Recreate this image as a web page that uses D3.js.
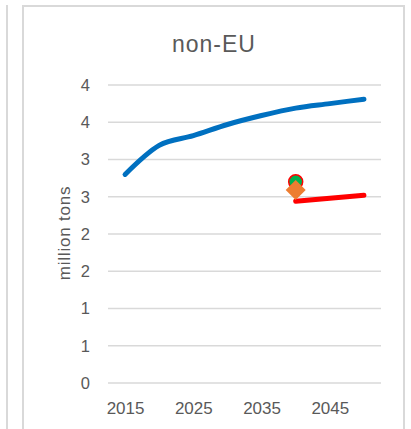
<!DOCTYPE html>
<html>
<head>
<meta charset="utf-8">
<script src="https://cdn.jsdelivr.net/npm/d3@7"></script>
<style>
  html, body { margin: 0; padding: 0; background: #ffffff; }
  svg { display: block; }
  text { font-family: "Liberation Sans", Arial, sans-serif; fill: #595959; }
</style>
</head>
<body>
<svg id="chart" width="411" height="429"></svg>
<script>
// ---- data ----
const years = [2015, 2020, 2025, 2030, 2035, 2040, 2045, 2050];
const blueSeries = [2.80, 3.19, 3.32, 3.47, 3.59, 3.69, 3.75, 3.81];
const redSeries = [null, null, null, null, null, 2.44, 2.48, 2.52];
const greenPoint = [{ year: 2040, value: 2.70 }];
const orangePoint = [{ year: 2040, value: 2.59 }];
const yTicks = [0, 0.5, 1, 1.5, 2, 2.5, 3, 3.5, 4];
const yTickLabels = ["0", "1", "1", "2", "2", "3", "3", "4", "4"];
const xTickLabels = ["2015", "2025", "2035", "2045"];
const titleText = "non-EU";
const yAxisTitle = "million tons";

// ---- layout ----
const svg = d3.select("#chart");
const plot = { left: 108, right: 381, top: 85, bottom: 383 };

// outer frames
svg.append("line").attr("x1", 7).attr("x2", 7).attr("y1", 5).attr("y2", 429)
  .attr("stroke", "#d9d9d9").attr("stroke-width", 2);
svg.append("path").attr("d", "M23,440 V6 H404 V440")
  .attr("fill", "none").attr("stroke", "#d9d9d9").attr("stroke-width", 2);

const x = d3.scalePoint().domain(years).range([plot.left, plot.right]).padding(0.5);
const y = d3.scaleLinear().domain([0, 4]).range([plot.bottom, plot.top]);

// gridlines
svg.append("g").selectAll("line").data(yTicks).join("line")
  .attr("x1", plot.left).attr("x2", plot.right)
  .attr("y1", d => y(d)).attr("y2", d => y(d))
  .attr("stroke", "#d9d9d9").attr("stroke-width", 1.5);

// y axis
const yAxis = d3.axisLeft(y).tickValues(yTicks)
  .tickFormat((d, i) => yTickLabels[i]).tickSize(0).tickPadding(0);
const gy = svg.append("g").attr("transform", "translate(90,0)").call(yAxis);
gy.select(".domain").remove();
gy.selectAll("text").attr("font-size", 16.5).attr("fill", "#595959")
  .attr("font-family", "Liberation Sans, Arial, sans-serif");

// x axis
const xAxis = d3.axisBottom(x).tickValues(years.filter(yv => xTickLabels.includes(String(yv))))
  .tickFormat(d => String(d)).tickSize(0).tickPadding(0);
const gx = svg.append("g").attr("transform", "translate(0,402)").call(xAxis);
gx.select(".domain").remove();
gx.selectAll("text").attr("font-size", 17).attr("fill", "#595959")
  .attr("font-family", "Liberation Sans, Arial, sans-serif").attr("dy", "0.71em");

// title
svg.append("text").attr("x", 214).attr("y", 52).attr("text-anchor", "middle")
  .attr("font-family", "'Open Sans', 'Liberation Sans', sans-serif")
  .attr("font-size", 23).attr("letter-spacing", 1).text(titleText);

// y axis title
svg.append("text").attr("transform", "translate(70,233) rotate(-90)")
  .attr("text-anchor", "middle").attr("font-size", 17).attr("letter-spacing", 0.8)
  .text(yAxisTitle);

// blue line
const blueLine = d3.line().defined(d => d[1] != null)
  .x(d => x(d[0])).y(d => y(d[1])).curve(d3.curveMonotoneX);
svg.append("path").datum(years.map((yr, i) => [yr, blueSeries[i]]))
  .attr("d", blueLine).attr("fill", "none").attr("stroke", "#0070c0")
  .attr("stroke-width", 5).attr("stroke-linecap", "round").attr("stroke-linejoin", "round");

// red line
const redLine = d3.line().defined(d => d[1] != null)
  .x(d => x(d[0])).y(d => y(d[1]));
svg.append("path").datum(years.map((yr, i) => [yr, redSeries[i]]))
  .attr("d", redLine).attr("fill", "none").attr("stroke", "#ff0000")
  .attr("stroke-width", 5).attr("stroke-linecap", "round");

// green circle
svg.append("g").selectAll("circle").data(greenPoint).join("circle")
  .attr("cx", d => x(d.year)).attr("cy", d => y(d.value)).attr("r", 7)
  .attr("fill", "#00b050").attr("stroke", "#ff0000").attr("stroke-width", 1.5);

// orange diamond
svg.append("g").selectAll("path").data(orangePoint).join("path")
  .attr("transform", d => `translate(${x(d.year)},${y(d.value)})`)
  .attr("d", "M0,-10 L10,0 L0,10 L-10,0 Z")
  .attr("fill", "#ed7d31");
</script>
</body>
</html>
